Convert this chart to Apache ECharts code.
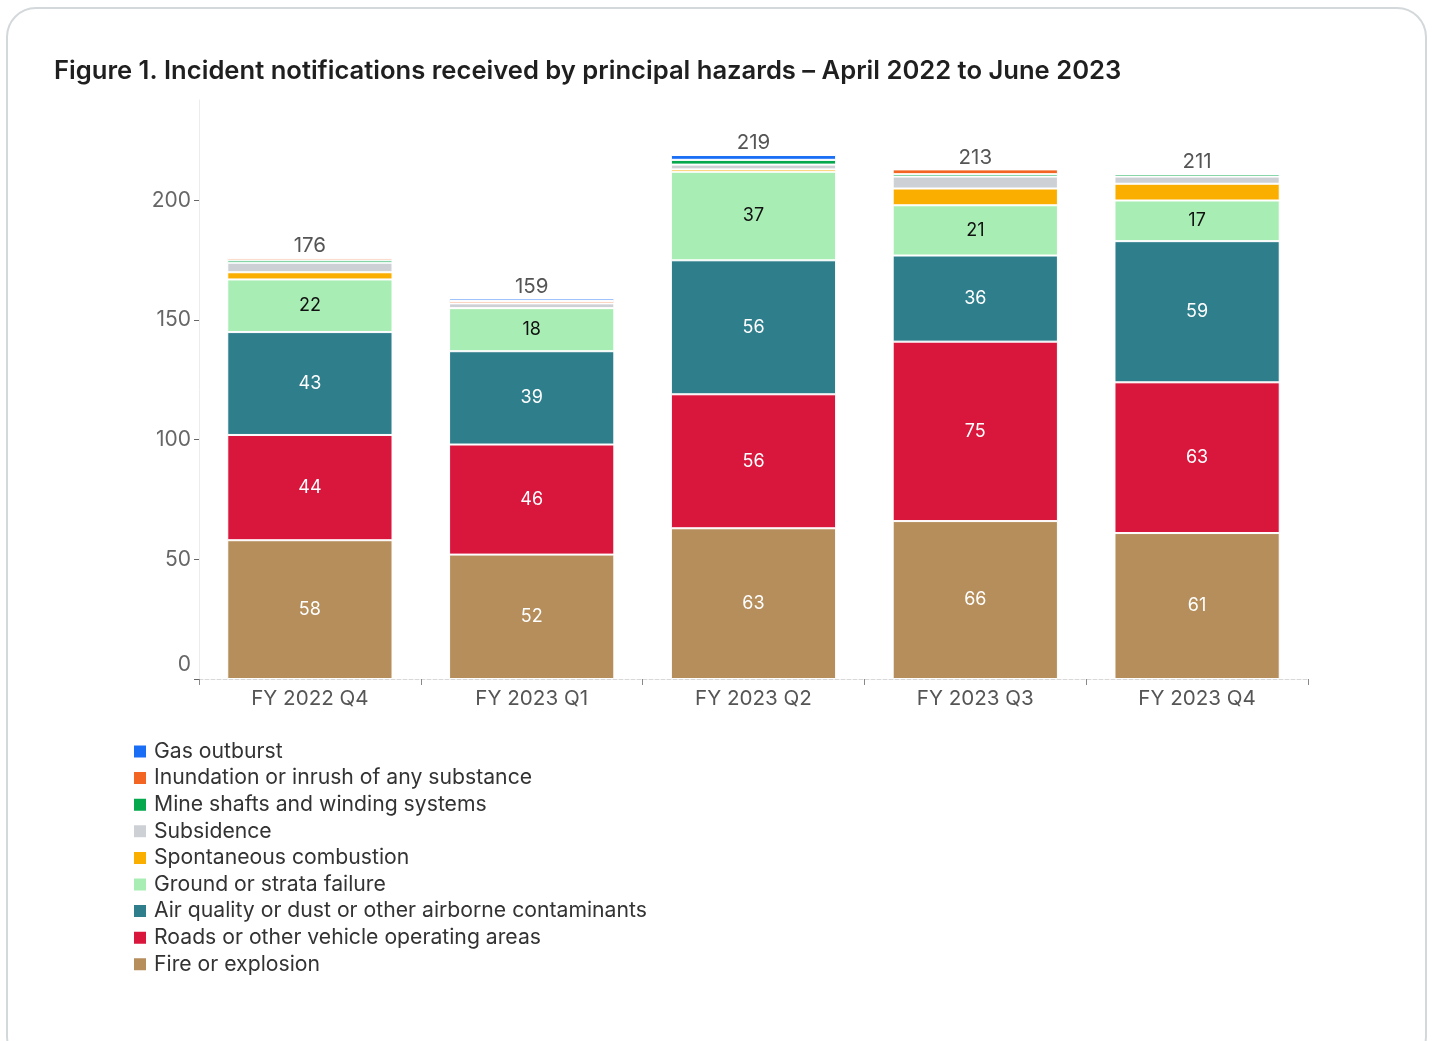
<!DOCTYPE html>
<html>
<head>
<meta charset="utf-8">
<script src="https://cdn.jsdelivr.net/npm/echarts@6/dist/echarts.min.js"></script>
<style>
html,body{margin:0;padding:0;background:#fff;width:1434px;height:1041px;overflow:hidden;}
#card{position:absolute;left:6px;top:7px;width:1421px;height:1060px;border:2px solid #d3d8db;border-radius:30px;box-sizing:border-box;}
#chart{position:absolute;left:0;top:0;width:1434px;height:1041px;}
</style>
</head>
<body>
<div id="card"></div>
<div id="chart"></div>
<script>
const categories = ['FY 2022 Q4','FY 2023 Q1','FY 2023 Q2','FY 2023 Q3','FY 2023 Q4'];
const fireOrExplosion   = [58, 52, 63, 66, 61];
const roadsVehicle      = [44, 46, 56, 75, 63];
const airQuality        = [43, 39, 56, 36, 59];
const groundStrata      = [22, 18, 37, 21, 17];
const spontaneous       = [3, 0, 1, 7, 7];
const subsidence        = [4, 2, 2, 5, 3];
const mineShafts        = [1, 0, 2, 1, 1];
const inundation        = [1, 1, 0, 2, 0];
const gasOutburst       = [0, 1, 2, 0, 0];
const yTicks = [0, 50, 100, 150, 200];

const seriesDefs = [
  {name:'Fire or explosion', data:fireOrExplosion, color:'#b58e5c', label:true, lc:'#ffffff'},
  {name:'Roads or other vehicle operating areas', data:roadsVehicle, color:'#d9163c', label:true, lc:'#ffffff'},
  {name:'Air quality or dust or other airborne contaminants', data:airQuality, color:'#2e7e8c', label:true, lc:'#ffffff'},
  {name:'Ground or strata failure', data:groundStrata, color:'#a8edb3', label:true, lc:'#111111'},
  {name:'Spontaneous combustion', data:spontaneous, color:'#f9ae00', label:false},
  {name:'Subsidence', data:subsidence, color:'#cdd1d6', label:false},
  {name:'Mine shafts and winding systems', data:mineShafts, color:'#05a84c', label:false},
  {name:'Inundation or inrush of any substance', data:inundation, color:'#f26522', label:false},
  {name:'Gas outburst', data:gasOutburst, color:'#1a6ef5', label:false}
];
const totals = categories.map((c,i)=>seriesDefs.reduce((s,d)=>s+d.data[i],0));

const FONT = 'Inter, "Noto Sans", sans-serif';
const series = seriesDefs.map(d=>({
  name:d.name, type:'bar', stack:'all', data:d.data, barCategoryGap:'25.5%',
  itemStyle:{color:d.color, borderColor:'#ffffff', borderWidth:1},
  label:{show:d.label, position:'inside', color:d.lc||'#fff', fontSize:18, fontFamily:FONT},
  emphasis:{disabled:true}
}));
series.push({
  name:'Total', type:'line', data:totals, symbol:'circle', symbolSize:1, showSymbol:true,
  itemStyle:{color:'rgba(0,0,0,0)'}, lineStyle:{width:0, color:'rgba(0,0,0,0)'}, silent:true,
  label:{show:true, position:'top', distance:1, color:'#555', fontSize:20.5, fontFamily:FONT},
  emphasis:{disabled:true}
});

const chart = echarts.init(document.getElementById('chart'), null, {renderer:'canvas'});
chart.setOption({
  animation:false,
  backgroundColor:'transparent',
  title:{text:'Figure 1. Incident notifications received by principal hazards – April 2022 to June 2023',
    left:49, top:53, textStyle:{fontSize:25.6, fontWeight:600, color:'#1f1f1f', fontFamily:FONT}},
  legend:{orient:'vertical', left:127, top:736, itemWidth:14, itemHeight:14, itemGap:5.6,
    icon:'rect', data:seriesDefs.map(d=>d.name).reverse(),
    textStyle:{fontSize:21.2, color:'#333', fontFamily:FONT, padding:[0,0,0,2]}, selectedMode:false},
  grid:{left:199, right:126, top:100, bottom:362, containLabel:false},
  xAxis:{type:'category', data:categories,
    axisLine:{show:true, lineStyle:{color:'#d8d8d8', type:'dashed', width:1}},
    axisTick:{show:true, length:6, lineStyle:{color:'#888'}},
    axisLabel:{fontSize:20.6, color:'#555', margin:9, fontFamily:FONT}},
  yAxis:{type:'value', min:0, max:242, interval:50,
    axisLine:{show:true, lineStyle:{color:'#ececec'}},
    axisTick:{show:true, length:5, lineStyle:{color:'#666'}},
    splitLine:{show:false},
    axisLabel:{showMaxLabel:false, fontSize:21, color:'#666', margin:8, fontFamily:FONT,
      formatter:v=> yTicks.includes(v) ? (v===0 ? '{z|0}' : String(v)) : '',
      rich:{z:{fontSize:21, color:'#666', padding:[0,0,28,0], fontFamily:FONT}}}},
  series:series
});
</script>
</body>
</html>
